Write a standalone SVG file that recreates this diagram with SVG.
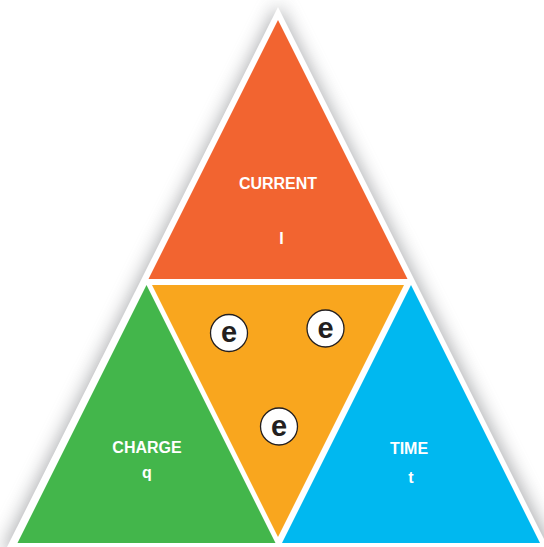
<svg xmlns="http://www.w3.org/2000/svg" width="544" height="547" viewBox="0 0 544 547">
  <defs>
    <filter id="shadow" x="-20%" y="-20%" width="140%" height="140%">
      <feGaussianBlur stdDeviation="9"/>
    </filter>
    <style>
      .lbl { font-family: "Liberation Sans", Arial, sans-serif; font-weight: bold; fill: #ffffff; text-anchor: middle; font-size: 16px; }
      .ecirc { fill: #ffffff; stroke: #231F20; stroke-width: 1.3; }
      .etxt { font-family: "Liberation Sans", Arial, sans-serif; font-weight: bold; font-size: 29px; fill: #231F20; text-anchor: middle; }
    </style>
  </defs>
  <rect width="544" height="547" fill="#ffffff"/>
  <g id="frame">
    <polygon points="278,4 2,552 554,552" fill="#808286" opacity="0.65" filter="url(#shadow)"/>
    <polygon points="278,7 7,547 548,547" fill="#ffffff"/>
  </g>
  <g id="current">
    <polygon points="278,20 148.5,279 407.5,279" fill="#F26430"/>
    <text class="lbl" x="278" y="189">CURRENT</text>
    <text class="lbl" x="281.5" y="244" font-size="17">I</text>
  </g>
  <g id="middle">
    <polygon points="152,285 404,285 278,537" fill="#F9A61E"/>
  </g>
  <g id="charge">
    <polygon points="146.5,285 17.5,543 275.5,543" fill="#43B64B"/>
    <text class="lbl" x="147" y="453">CHARGE</text>
    <text class="lbl" x="147" y="478">q</text>
  </g>
  <g id="time">
    <polygon points="411,285 282,543 540,543" fill="#00B8F0"/>
    <text class="lbl" x="409" y="454">TIME</text>
    <text class="lbl" x="411" y="483">t</text>
  </g>
  <g id="electron1">
    <circle class="ecirc" cx="229" cy="333" r="18.5"/>
    <text class="etxt" x="229" y="342">e</text>
  </g>
  <g id="electron2">
    <circle class="ecirc" cx="325.5" cy="328.5" r="18.5"/>
    <text class="etxt" x="325.5" y="337.5">e</text>
  </g>
  <g id="electron3">
    <circle class="ecirc" cx="279" cy="426.5" r="18.5"/>
    <text class="etxt" x="279" y="435.5">e</text>
  </g>
  <g id="connectors"/>
</svg>
